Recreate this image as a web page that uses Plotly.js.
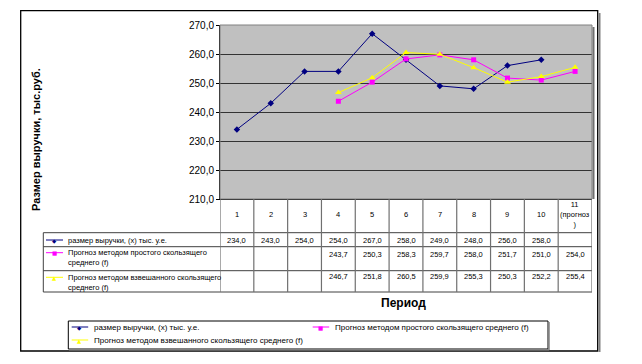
<!DOCTYPE html>
<html><head><meta charset="utf-8">
<script src="https://cdn.plot.ly/plotly-3.0.1.min.js"></script>
<style>html,body{margin:0;padding:0;background:#fff}#chart{width:642px;height:364px}</style>
</head><body><div id="chart"></div>
<script>
const periods = [1,2,3,4,5,6,7,8,9,10,11];
const periodLabels = ['1','2','3','4','5','6','7','8','9','10','11<br>(прогноз<br>)'];
const revenue = [234.0,243.0,254.0,254.0,267.0,258.0,249.0,248.0,256.0,258.0,null];
const simpleMA = [null,null,null,243.7,250.3,258.3,259.7,258.0,251.7,251.0,254.0];
const weightedMA = [null,null,null,246.7,251.8,260.5,259.9,255.3,250.3,252.2,255.4];
const seriesNames = ['размер выручки, (х) тыс. у.е.',
  'Прогноз методом простого скользящего среднего (f)',
  'Прогноз методом взвешанного скользящего среднего (f)'];
const tableRowLabels = ['размер выручки, (х) тыс. у.е.',
  'Прогноз методом простого скользящего<br>среднего (f)',
  'Прогноз методом взвешанного скользящего<br>среднего (f)'];
const yTitle = 'Размер выручки, тыс.руб.';
const xTitle = 'Период';

const W = 642, H = 364;
const px = x => x / W, py = y => 1 - y / H;
const FONT = 'Liberation Sans, Arial, sans-serif';
const colors = ['#000080', '#FF00FF', '#FFFF00'];
const symbols = ['diamond', 'square', 'triangle-up'];
const glyphs = ['◆', '■', '▲'];
const sizes = [5, 5, 6];
const allSeries = [revenue, simpleMA, weightedMA];

const plotL = 220, plotR = 592, plotT = 25, plotB = 199;

const traces = allSeries.map((s, i) => ({
  type: 'scatter', mode: 'lines+markers', x: periods, y: s, name: seriesNames[i],
  line: {color: colors[i], width: 1}, connectgaps: false,
  marker: {symbol: symbols[i], size: sizes[i], color: colors[i], line: {width: 0}},
  hoverinfo: 'skip', showlegend: false
}));

const shapes = [];
const annotations = [];

// outer frame
shapes.push({type:'rect', xref:'paper', yref:'paper', x0:px(20.7), x1:px(597.7), y0:py(351), y1:py(10.7), line:{color:'#000', width:1.3}});
shapes.push({type:'line', xref:'paper', yref:'paper', x0:px(599.5), x1:px(599.5), y0:py(13), y1:py(352), line:{color:'#808080', width:2}});
// plot area border and shadow
shapes.push({type:'rect', xref:'paper', yref:'paper', x0:px(plotL), x1:px(plotR), y0:py(plotB), y1:py(plotT), line:{color:'#808080', width:1}});
shapes.push({type:'line', xref:'paper', yref:'paper', x0:px(plotR+1.5), x1:px(plotR+1.5), y0:py(plotT+2), y1:py(plotB), line:{color:'#707070', width:2}});

// table geometry
const rowTops = [232.7, 246.7, 270.7, 292];
const tableLeft = 43.3, tableBottom = 292;
rowTops.forEach(y => shapes.push({type:'line', xref:'paper', yref:'paper', x0:px(tableLeft), x1:px(plotR), y0:py(y), y1:py(y), line:{color:'#404040', width:1}}));
shapes.push({type:'line', xref:'paper', yref:'paper', x0:px(tableLeft), x1:px(tableLeft), y0:py(rowTops[0]), y1:py(tableBottom), line:{color:'#404040', width:1}});
for (let i = 0; i <= periods.length; i++) {
  shapes.push({type:'line', xref:'x', yref:'paper', x0:periods[0]-0.5+i, x1:periods[0]-0.5+i, y0:py(plotB), y1:py(tableBottom), line:{color:'#707070', width:1.2}});
}

// header labels
periodLabels.forEach((t, i) => annotations.push({xref:'x', yref:'paper', x:periods[i], y:py(214), text:t, showarrow:false,
  xanchor:'center', yanchor:'middle', align:'center', font:{family:FONT, size:7.5, color:'#000'}}));

// table values
const rowValueY = [240, 254.7, 276];
const fmt = v => v.toFixed(1).replace('.', ',');
allSeries.forEach((s, r) => s.forEach((v, i) => {
  if (v === null) return;
  annotations.push({xref:'x', yref:'paper', x:periods[i], y:py(rowValueY[r]), text:fmt(v), showarrow:false,
    xanchor:'center', yanchor:'middle', font:{family:FONT, size:7.5, color:'#000'}});
}));

function addKey(r, x0, x1, y) {
  shapes.push({type:'line', xref:'paper', yref:'paper', x0:px(x0), x1:px(x1), y0:py(y), y1:py(y), line:{color:colors[r], width:1}});
  annotations.push({xref:'paper', yref:'paper', x:px((x0+x1)/2), y:py(y+0.5), text:glyphs[r], showarrow:false,
    xanchor:'center', yanchor:'middle', font:{family:'DejaVu Sans', size:5.5, color:colors[r]}});
}

// table row labels with keys
const rowLabelY = [240, 257.5, 282.3];
const keyY = [240, 252.7, 277.3];
tableRowLabels.forEach((t, r) => {
  annotations.push({xref:'paper', yref:'paper', x:px(65.7), y:py(rowLabelY[r]), text:t, showarrow:false,
    xanchor:'left', yanchor:'middle', align:'left', font:{family:FONT, size:7.5, color:'#000'}});
  addKey(r, 46, 63, keyY[r]);
});

// legend box (drawn)
shapes.push({type:'line', xref:'paper', yref:'paper', x0:px(549), x1:px(549), y0:py(322), y1:py(350), line:{color:'#808080', width:1.5}});
shapes.push({type:'line', xref:'paper', yref:'paper', x0:px(69), x1:px(549), y0:py(350), y1:py(350), line:{color:'#808080', width:1}});
shapes.push({type:'rect', xref:'paper', yref:'paper', x0:px(68.3), x1:px(548), y0:py(349), y1:py(321), line:{color:'#000', width:1}, fillcolor:'#fff', layer:'below'});
const legendPos = [[71.7, 327], [312.7, 327], [71.7, 340]];
seriesNames.forEach((n, r) => {
  const [lx, ly] = legendPos[r];
  addKey(r, lx, lx + 16.5, ly);
  annotations.push({xref:'paper', yref:'paper', x:px(lx + 20), y:py(ly), text:n, showarrow:false,
    xanchor:'left', yanchor:'middle', font:{family:FONT, size:8, color:'#000'}});
});

// titles
annotations.push({xref:'paper', yref:'paper', x:px(36), y:py(140), text:'<b>'+yTitle+'</b>', textangle:-90, showarrow:false,
  xanchor:'center', yanchor:'middle', font:{family:FONT, size:11, color:'#000'}});
annotations.push({xref:'paper', yref:'paper', x:px(403), y:py(303), text:'<b>'+xTitle+'</b>', showarrow:false,
  xanchor:'center', yanchor:'middle', font:{family:FONT, size:12, color:'#000'}});

const layout = {
  width: W, height: H,
  margin: {l:0, r:0, t:0, b:0, pad:0},
  paper_bgcolor: '#fff', plot_bgcolor: '#C0C0C0',
  separators: ', ',
  font: {family: FONT, color: '#000'},
  showlegend: false,
  xaxis: {domain:[px(plotL), px(plotR)], range:[0.5, 11.5], showticklabels:false, ticks:'',
    showgrid:false, zeroline:false, showline:true, linecolor:'#000', linewidth:1, fixedrange:true},
  yaxis: {domain:[py(plotB), py(plotT)], range:[210, 270], dtick:10, tick0:210, tickformat:'.1f',
    showgrid:true, gridcolor:'#333', gridwidth:1, zeroline:false, showline:true, linecolor:'#000', linewidth:1,
    ticks:'outside', ticklen:3, tickcolor:'#000', tickfont:{family:FONT, size:10, color:'#000'}, fixedrange:true},
  shapes: shapes,
  annotations: annotations
};

Plotly.newPlot('chart', traces, layout, {displayModeBar:false, staticPlot:true});
</script>
</body></html>
